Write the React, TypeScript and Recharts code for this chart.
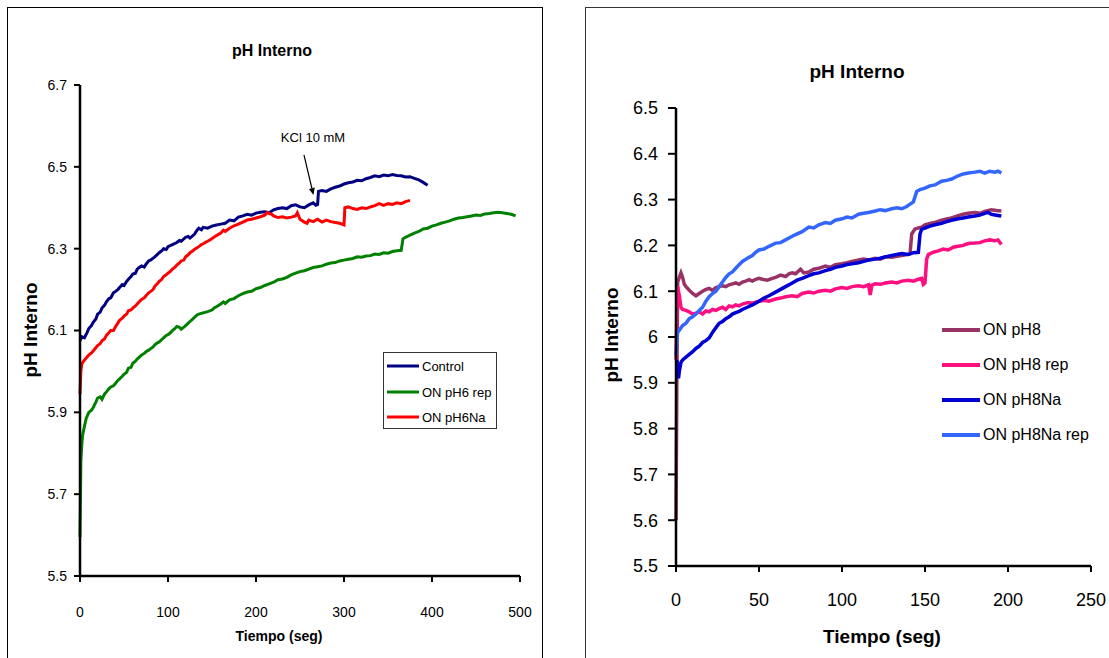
import React from 'react';
import { LineChart, Line, XAxis, YAxis, ReferenceLine } from 'recharts';

// ---- left chart: ON pH6 series, [t (s), pH] ----
const control: number[][] = [
  [0, 6.075], [2, 6.085], [5, 6.082], [8, 6.095], [10, 6.105], [13, 6.112], [15, 6.12], [18, 6.128],
  [20, 6.14], [23, 6.145], [25, 6.155], [28, 6.162], [30, 6.17], [33, 6.178], [35, 6.18], [38, 6.192],
  [40, 6.195], [43, 6.2], [45, 6.205], [48, 6.212], [50, 6.21], [53, 6.22], [55, 6.225], [58, 6.232],
  [60, 6.238], [63, 6.24], [65, 6.25], [68, 6.255], [70, 6.258], [73, 6.255], [75, 6.262], [78, 6.27],
  [80, 6.272], [85, 6.28], [90, 6.29], [93, 6.295], [95, 6.3], [98, 6.298], [100, 6.305], [105, 6.31],
  [110, 6.315], [113, 6.32], [115, 6.318], [120, 6.328], [123, 6.33], [125, 6.326], [130, 6.335],
  [133, 6.345], [135, 6.35], [138, 6.346], [140, 6.352], [145, 6.35], [150, 6.355], [155, 6.358],
  [160, 6.36], [165, 6.362], [170, 6.37], [175, 6.368], [180, 6.377], [185, 6.38], [190, 6.384],
  [195, 6.382], [200, 6.387], [205, 6.389], [210, 6.39], [215, 6.388], [220, 6.395], [225, 6.398],
  [230, 6.4], [235, 6.398], [240, 6.405], [245, 6.407], [250, 6.402], [255, 6.4], [260, 6.407],
  [265, 6.412], [268, 6.406], [270, 6.408], [271, 6.44], [275, 6.442], [280, 6.44], [285, 6.446],
  [290, 6.45], [295, 6.453], [300, 6.458], [305, 6.461], [310, 6.463], [315, 6.467], [320, 6.466],
  [325, 6.471], [330, 6.474], [335, 6.478], [340, 6.476], [345, 6.48], [350, 6.478], [355, 6.481],
  [360, 6.479], [365, 6.478], [370, 6.475], [375, 6.476], [380, 6.472], [385, 6.468], [390, 6.462],
  [395, 6.455],
];

const pH6rep: number[][] = [
  [0, 5.595], [1, 5.78], [2, 5.82], [3, 5.845], [5, 5.865], [7, 5.885], [10, 5.9], [13, 5.905],
  [15, 5.912], [18, 5.925], [20, 5.935], [23, 5.938], [25, 5.932], [28, 5.945], [30, 5.95],
  [33, 5.958], [35, 5.962], [38, 5.965], [40, 5.97], [43, 5.978], [45, 5.982], [48, 5.988],
  [50, 5.993], [53, 5.998], [55, 6.008], [58, 6.01], [60, 6.02], [63, 6.025], [65, 6.03],
  [68, 6.036], [70, 6.04], [73, 6.044], [75, 6.048], [78, 6.052], [80, 6.055], [83, 6.06],
  [85, 6.065], [88, 6.07], [90, 6.072], [93, 6.078], [95, 6.082], [98, 6.088], [100, 6.09],
  [103, 6.095], [105, 6.1], [108, 6.105], [110, 6.11], [113, 6.108], [115, 6.103], [118, 6.108],
  [120, 6.112], [123, 6.118], [125, 6.122], [128, 6.128], [130, 6.132], [133, 6.138], [135, 6.14],
  [140, 6.143], [145, 6.146], [150, 6.15], [153, 6.156], [155, 6.158], [160, 6.165], [163, 6.17],
  [165, 6.166], [170, 6.175], [175, 6.178], [180, 6.185], [185, 6.19], [190, 6.194], [195, 6.196],
  [200, 6.202], [205, 6.205], [210, 6.21], [215, 6.214], [220, 6.218], [225, 6.224], [230, 6.226],
  [235, 6.23], [240, 6.236], [245, 6.24], [250, 6.244], [255, 6.246], [260, 6.25], [265, 6.254],
  [270, 6.256], [275, 6.258], [280, 6.262], [285, 6.265], [290, 6.266], [295, 6.27], [300, 6.272],
  [305, 6.274], [310, 6.276], [315, 6.28], [320, 6.279], [325, 6.282], [330, 6.283], [335, 6.287],
  [340, 6.286], [345, 6.29], [350, 6.289], [355, 6.293], [360, 6.295], [365, 6.296], [367, 6.324],
  [370, 6.328], [375, 6.333], [380, 6.338], [385, 6.342], [390, 6.348], [395, 6.35], [400, 6.355],
  [405, 6.358], [410, 6.362], [415, 6.365], [420, 6.368], [425, 6.372], [430, 6.375], [435, 6.376],
  [440, 6.378], [445, 6.38], [450, 6.382], [455, 6.381], [460, 6.385], [465, 6.386], [470, 6.388],
  [475, 6.389], [480, 6.388], [485, 6.386], [490, 6.384], [495, 6.38],
];

const pH6Na: number[][] = [
  [0, 5.945], [1, 6.0], [2, 6.018], [4, 6.025], [6, 6.03], [8, 6.035], [10, 6.04], [13, 6.045],
  [15, 6.05], [18, 6.058], [20, 6.063], [23, 6.068], [25, 6.075], [28, 6.08], [30, 6.088],
  [33, 6.095], [35, 6.1], [38, 6.1], [40, 6.108], [43, 6.118], [45, 6.125], [48, 6.13], [50, 6.135],
  [53, 6.14], [55, 6.148], [58, 6.15], [60, 6.155], [63, 6.16], [65, 6.165], [68, 6.172],
  [70, 6.176], [73, 6.18], [75, 6.185], [78, 6.192], [80, 6.195], [83, 6.2], [85, 6.208],
  [88, 6.215], [90, 6.22], [93, 6.225], [95, 6.232], [98, 6.236], [100, 6.24], [103, 6.245],
  [105, 6.25], [108, 6.255], [110, 6.26], [113, 6.265], [115, 6.27], [118, 6.272], [120, 6.28],
  [123, 6.285], [125, 6.29], [128, 6.294], [130, 6.298], [133, 6.302], [135, 6.305], [138, 6.31],
  [140, 6.312], [143, 6.316], [145, 6.318], [148, 6.322], [150, 6.325], [155, 6.332], [160, 6.338],
  [163, 6.345], [165, 6.342], [170, 6.35], [175, 6.356], [180, 6.36], [185, 6.365], [190, 6.37],
  [195, 6.372], [200, 6.375], [205, 6.378], [210, 6.382], [213, 6.388], [215, 6.386], [218, 6.384],
  [220, 6.38], [225, 6.376], [230, 6.378], [235, 6.375], [240, 6.377], [245, 6.38], [247, 6.388],
  [250, 6.372], [255, 6.365], [258, 6.362], [260, 6.37], [265, 6.366], [270, 6.372], [275, 6.365],
  [280, 6.37], [285, 6.366], [290, 6.364], [295, 6.362], [300, 6.358], [301, 6.4], [305, 6.402],
  [310, 6.398], [315, 6.396], [320, 6.4], [325, 6.398], [330, 6.402], [335, 6.405], [340, 6.41],
  [345, 6.406], [350, 6.41], [355, 6.408], [360, 6.412], [365, 6.41], [370, 6.415], [375, 6.418],
];

// ---- right chart: ON pH8 series ----
const pH8: number[][] = [
  [0, 5.6], [0.5, 5.9], [1, 6.12], [2, 6.13], [3, 6.14], [4, 6.13], [5, 6.115], [6, 6.11],
  [8, 6.102], [10, 6.095], [12, 6.09], [14, 6.095], [16, 6.1], [18, 6.104], [20, 6.106],
  [22, 6.102], [24, 6.108], [26, 6.11], [28, 6.112], [30, 6.11], [32, 6.114], [34, 6.116],
  [36, 6.118], [38, 6.115], [40, 6.12], [42, 6.122], [44, 6.125], [46, 6.122], [48, 6.126],
  [50, 6.128], [52, 6.126], [55, 6.124], [58, 6.128], [60, 6.13], [63, 6.135], [66, 6.132],
  [68, 6.138], [70, 6.14], [72, 6.138], [75, 6.148], [77, 6.14], [80, 6.142], [83, 6.148],
  [86, 6.15], [90, 6.155], [93, 6.152], [96, 6.158], [100, 6.16], [103, 6.162], [106, 6.165],
  [110, 6.168], [113, 6.17], [116, 6.168], [120, 6.172], [123, 6.17], [126, 6.175], [130, 6.174],
  [133, 6.176], [136, 6.178], [139, 6.18], [141, 6.182], [142, 6.225], [144, 6.236], [146, 6.238],
  [148, 6.24], [150, 6.245], [153, 6.248], [156, 6.25], [160, 6.255], [163, 6.258], [166, 6.26],
  [170, 6.265], [173, 6.268], [176, 6.27], [180, 6.272], [183, 6.27], [186, 6.274], [190, 6.278],
  [193, 6.276], [196, 6.275],
];

const pH8rep: number[][] = [
  [0, 5.95], [0.5, 6.05], [1, 6.11], [2, 6.09], [3, 6.065], [4, 6.06], [6, 6.058], [8, 6.055],
  [10, 6.05], [12, 6.052], [14, 6.055], [16, 6.05], [18, 6.057], [20, 6.055], [22, 6.06],
  [24, 6.058], [26, 6.062], [28, 6.065], [30, 6.06], [32, 6.068], [34, 6.066], [36, 6.07],
  [38, 6.068], [40, 6.072], [43, 6.075], [46, 6.074], [50, 6.078], [53, 6.08], [56, 6.078],
  [60, 6.083], [63, 6.085], [66, 6.088], [70, 6.09], [73, 6.088], [76, 6.095], [80, 6.098],
  [83, 6.096], [86, 6.1], [90, 6.102], [93, 6.1], [96, 6.105], [100, 6.108], [103, 6.106],
  [106, 6.11], [110, 6.112], [113, 6.11], [116, 6.114], [117, 6.092], [118, 6.113], [120, 6.116],
  [123, 6.115], [126, 6.118], [130, 6.12], [133, 6.118], [136, 6.122], [140, 6.124], [143, 6.122],
  [146, 6.126], [148, 6.128], [149, 6.115], [150, 6.118], [151, 6.17], [152, 6.18], [155, 6.185],
  [158, 6.188], [161, 6.192], [164, 6.19], [167, 6.196], [170, 6.198], [173, 6.2], [176, 6.204],
  [180, 6.205], [183, 6.206], [186, 6.21], [189, 6.212], [192, 6.21], [194, 6.212], [196, 6.202],
];

const pH8Na: number[][] = [
  [0.5, 5.95], [1.5, 5.91], [2, 5.925], [3, 5.945], [4, 5.95], [6, 5.956], [8, 5.962], [10, 5.968],
  [12, 5.975], [14, 5.98], [16, 5.988], [18, 5.992], [20, 5.998], [22, 6.01], [24, 6.02],
  [26, 6.03], [28, 6.034], [30, 6.04], [32, 6.044], [34, 6.05], [36, 6.053], [38, 6.056],
  [40, 6.06], [43, 6.065], [46, 6.07], [50, 6.078], [53, 6.085], [56, 6.09], [60, 6.098],
  [63, 6.104], [66, 6.11], [70, 6.118], [73, 6.124], [76, 6.128], [80, 6.134], [83, 6.138],
  [86, 6.14], [90, 6.145], [93, 6.148], [96, 6.152], [100, 6.155], [103, 6.158], [106, 6.16],
  [110, 6.162], [113, 6.165], [116, 6.168], [120, 6.17], [123, 6.172], [126, 6.175], [130, 6.178],
  [133, 6.18], [136, 6.182], [140, 6.18], [143, 6.184], [146, 6.185], [147, 6.225], [148, 6.235],
  [150, 6.238], [153, 6.242], [156, 6.245], [160, 6.248], [163, 6.252], [166, 6.255], [170, 6.258],
  [173, 6.26], [176, 6.262], [180, 6.264], [183, 6.266], [186, 6.27], [188, 6.272], [190, 6.268],
  [193, 6.266], [196, 6.264],
];

const pH8NaRep: number[][] = [
  [0, 5.96], [0.5, 5.99], [1, 6.01], [2, 6.015], [4, 6.025], [6, 6.03], [8, 6.04], [10, 6.044],
  [12, 6.05], [14, 6.058], [16, 6.065], [18, 6.078], [20, 6.088], [22, 6.095], [24, 6.1],
  [26, 6.11], [28, 6.12], [30, 6.13], [32, 6.138], [34, 6.142], [36, 6.15], [38, 6.158],
  [40, 6.165], [43, 6.172], [46, 6.178], [48, 6.185], [50, 6.19], [53, 6.192], [56, 6.198],
  [60, 6.205], [63, 6.206], [66, 6.212], [70, 6.22], [73, 6.225], [76, 6.23], [80, 6.24],
  [83, 6.238], [86, 6.245], [90, 6.25], [93, 6.248], [96, 6.255], [100, 6.258], [103, 6.262],
  [106, 6.26], [110, 6.268], [113, 6.27], [116, 6.272], [120, 6.275], [123, 6.278], [126, 6.276],
  [130, 6.28], [133, 6.282], [136, 6.28], [139, 6.285], [141, 6.29], [143, 6.295], [145, 6.318],
  [147, 6.322], [150, 6.325], [153, 6.33], [156, 6.332], [160, 6.34], [163, 6.342], [166, 6.345],
  [170, 6.352], [173, 6.356], [176, 6.358], [180, 6.36], [183, 6.362], [186, 6.358], [189, 6.362],
  [192, 6.36], [194, 6.362], [196, 6.358],
];

const leftTicksX = [0, 100, 200, 300, 400, 500];
const leftTicksY = [5.5, 5.7, 5.9, 6.1, 6.3, 6.5, 6.7];
const rightTicksX = [0, 50, 100, 150, 200, 250];
const rightTicksY = [5.5, 5.6, 5.7, 5.8, 5.9, 6.0, 6.1, 6.2, 6.3, 6.4, 6.5];

const leftSeries = [
  { name: 'Control', color: '#000080', data: control },
  { name: 'ON pH6 rep', color: '#008000', data: pH6rep },
  { name: 'ON pH6Na', color: '#ff0000', data: pH6Na },
];
const rightSeries = [
  { name: 'ON pH8', color: '#993366', data: pH8 },
  { name: 'ON pH8 rep', color: '#ff0f80', data: pH8rep },
  { name: 'ON pH8Na', color: '#0000d4', data: pH8Na },
  { name: 'ON pH8Na rep', color: '#3366ff', data: pH8NaRep },
];

const SANS = "'Liberation Sans', Arial, sans-serif";

const toPts = (arr: number[][]) => arr.map(([t, v]) => ({ t, v }));

function Txt({ x, y, size, bold, rotate, children }: any) {
  return (
    <div
      style={{
        position: 'absolute',
        left: x,
        top: y,
        transform: `translate(-50%, -50%)${rotate ? ' rotate(-90deg)' : ''}`,
        whiteSpace: 'nowrap',
        fontSize: size,
        fontWeight: bold ? 'bold' : 'normal',
        fontFamily: SANS,
        color: '#000',
        lineHeight: 1,
      }}
    >
      {children}
    </div>
  );
}

// arrow for the KCl annotation
const ArrowShape = (props: any) => {
  const { x1, y1, x2, y2 } = props;
  if (x1 == null) return null;
  const ang = Math.atan2(y2 - y1, x2 - x1);
  const h = 7;
  const w = 3;
  const bx = x2 - h * Math.cos(ang);
  const by = y2 - h * Math.sin(ang);
  const px = -Math.sin(ang) * w;
  const py = Math.cos(ang) * w;
  return (
    <g>
      <line x1={x1} y1={y1} x2={bx} y2={by} stroke="#000" strokeWidth={1.2} />
      <polygon points={`${x2},${y2} ${bx + px},${by + py} ${bx - px},${by - py}`} fill="#000" />
    </g>
  );
};

export default function App() {
  return (
    <div style={{ position: 'absolute', left: 0, top: 0, width: 1109, height: 658, background: '#fff', overflow: 'hidden' }}>
      {/* frames */}
      <div style={{ position: 'absolute', left: 7, top: 7, width: 534, height: 700, border: '1px solid #000' }} />
      <div style={{ position: 'absolute', left: 585, top: 7, width: 600, height: 700, borderLeft: '1px solid #333', borderTop: '1px solid #333' }} />

      {/* left chart */}
      <div style={{ position: 'absolute', left: 0, top: 0 }}>
        <LineChart width={560} height={658} margin={{ top: 85, right: 40, bottom: 52, left: 20 }}>
          <XAxis
            dataKey="t"
            type="number"
            domain={[0, 500]}
            ticks={leftTicksX}
            interval={0}
            height={30}
            tickSize={6}
            tickMargin={25}
            axisLine={{ stroke: '#000', strokeWidth: 2.5 }}
            tickLine={{ stroke: '#000', strokeWidth: 2 }}
            tick={{ fill: '#000', fontSize: 14, fontFamily: SANS }}
          />
          <YAxis
            type="number"
            domain={[5.5, 6.7]}
            ticks={leftTicksY}
            interval={0}
            width={60}
            tickSize={6}
            tickMargin={7}
            tickFormatter={(v: number) => v.toFixed(1)}
            axisLine={{ stroke: '#000', strokeWidth: 2.5 }}
            tickLine={{ stroke: '#000', strokeWidth: 2 }}
            tick={{ fill: '#000', fontSize: 14, fontFamily: SANS }}
          />
          {leftSeries.map((s) => (
            <Line
              key={s.name}
              data={toPts(s.data)}
              dataKey="v"
              type="linear"
              stroke={s.color}
              strokeWidth={3}
              dot={false}
              isAnimationActive={false}
            />
          ))}
          <ReferenceLine
            segment={[{ x: 254.5, y: 6.529 }, { x: 265.3, y: 6.431 }]}
            shape={ArrowShape}
            ifOverflow="visible"
          />
        </LineChart>
      </div>

      <Txt x={272} y={51} size={16} bold>pH Interno</Txt>
      <Txt x={30} y={330} size={19} bold rotate>pH Interno</Txt>
      <Txt x={279} y={636} size={14} bold>Tiempo (seg)</Txt>
      <Txt x={313} y={137} size={13}>KCl 10 mM</Txt>

      {/* left legend */}
      <div style={{ position: 'absolute', left: 383, top: 352, width: 112, height: 75, border: '1px solid #333', background: '#fff' }}>
        {leftSeries.map((s, i) => (
          <div key={s.name} style={{ position: 'absolute', left: 3, top: 13 + i * 25.5, display: 'flex', alignItems: 'center', transform: 'translateY(-50%)' }}>
            <div style={{ width: 32, height: 3, background: s.color }} />
            <span style={{ marginLeft: 3, fontSize: 13, fontFamily: SANS, color: '#000', lineHeight: 1, whiteSpace: 'nowrap' }}>{s.name}</span>
          </div>
        ))}
      </div>

      {/* right chart */}
      <div style={{ position: 'absolute', left: 580, top: 0 }}>
        <LineChart width={529} height={658} margin={{ top: 108, right: 18, bottom: 62, left: 36 }}>
          <XAxis
            dataKey="t"
            type="number"
            domain={[0, 250]}
            ticks={rightTicksX}
            interval={0}
            height={30}
            tickSize={6}
            tickMargin={21}
            axisLine={{ stroke: '#000', strokeWidth: 2.5 }}
            tickLine={{ stroke: '#000', strokeWidth: 2 }}
            tick={{ fill: '#000', fontSize: 18, fontFamily: SANS }}
          />
          <YAxis
            type="number"
            domain={[5.5, 6.5]}
            ticks={rightTicksY}
            interval={0}
            width={60}
            tickSize={8}
            tickMargin={10}
            tickFormatter={(v: number) => String(Number(v.toFixed(1)))}
            axisLine={{ stroke: '#000', strokeWidth: 2.5 }}
            tickLine={{ stroke: '#000', strokeWidth: 2 }}
            tick={{ fill: '#000', fontSize: 18, fontFamily: SANS }}
          />
          {rightSeries.map((s) => (
            <Line
              key={s.name}
              data={toPts(s.data)}
              dataKey="v"
              type="linear"
              stroke={s.color}
              strokeWidth={3.5}
              dot={false}
              isAnimationActive={false}
            />
          ))}
        </LineChart>
      </div>

      <Txt x={857} y={71} size={19} bold>pH Interno</Txt>
      <Txt x={611} y={335} size={19} bold rotate>pH Interno</Txt>
      <Txt x={882} y={636} size={19} bold>Tiempo (seg)</Txt>

      {/* right legend */}
      {rightSeries.map((s, i) => (
        <div key={s.name} style={{ position: 'absolute', left: 942, top: 330 + i * 35, display: 'flex', alignItems: 'center', transform: 'translateY(-50%)' }}>
          <div style={{ width: 38, height: 3.5, background: s.color }} />
          <span style={{ marginLeft: 3, fontSize: 16, fontFamily: SANS, color: '#000', lineHeight: 1, whiteSpace: 'nowrap' }}>{s.name}</span>
        </div>
      ))}
    </div>
  );
}
